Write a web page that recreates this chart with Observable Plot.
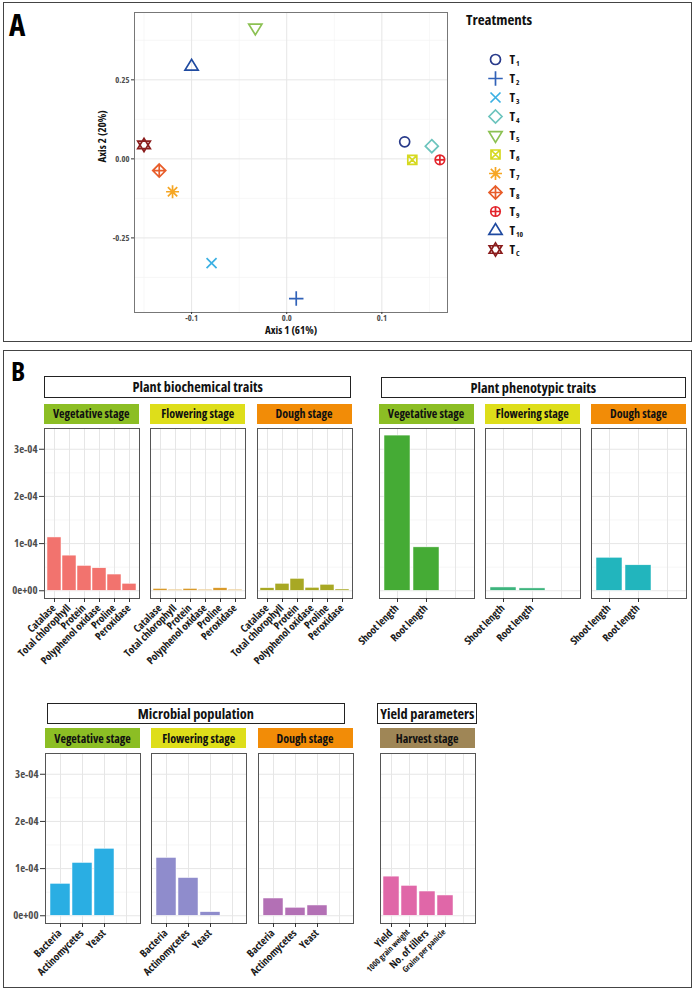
<!DOCTYPE html>
<html><head><meta charset="utf-8">
<script src="https://cdn.jsdelivr.net/npm/d3@7"></script>
<script src="https://cdn.jsdelivr.net/npm/@observablehq/plot@0.6"></script>
<style>
body{margin:0;background:#fff;}
#root{position:relative;width:695px;height:991px;overflow:hidden;font-family:"Open Sans",sans-serif;font-stretch:75%;}
.abs{position:absolute;box-sizing:border-box;}
svg{overflow:visible;}
</style></head><body><div id="root"></div>
<script>
// ---------- DATA ----------
const treatments = ["T1","T2","T3","T4","T5","T6","T7","T8","T9","T10","TC"];
const treatSubs = ["1","2","3","4","5","6","7","8","9","10","C"];
const axis1 = [0.124, 0.010, -0.079, 0.1525, -0.033, 0.132, -0.120, -0.134, 0.161, -0.100, -0.150];
const axis2 = [0.054, -0.442, -0.330, 0.040, 0.414, -0.003, -0.104, -0.037, -0.003, 0.293, 0.044];
const treatColors = ["#283a8a","#3162b8","#3bb0e3","#6cc4bd","#8cc153","#d6d921","#f6a623","#e85d2a","#e3242b","#1f4aa0","#8a1c1c"];
const axisTitle1 = "Axis 1 (61%)";
const axisTitle2 = "Axis 2 (20%)";
const xTicksA = [-0.1, 0, 0.1];
const yTicksA = [-0.25, 0, 0.25];
const xMinorA = [-0.15, -0.05, 0.05, 0.15];
const yMinorA = [-0.375, -0.125, 0.125, 0.375];

const stages = ["Vegetative stage","Flowering stage","Dough stage"];
const harvestStage = "Harvest stage";
const stageColors = ["#8cbe24","#dede1a","#f28c07"];
const harvestColor = "#9f8656";

const biochemTraits = ["Catalase","Total chlorophyll","Protein","Polyphenol oxidase","Proline","Peroxidase"];
const biochemVeg   = [1.13e-4, 0.745e-4, 0.527e-4, 0.477e-4, 0.344e-4, 0.148e-4];
const biochemFlow  = [0.040e-4, 0.020e-4, 0.040e-4, 0.020e-4, 0.055e-4, 0.020e-4];
const biochemDough = [0.055e-4, 0.148e-4, 0.253e-4, 0.063e-4, 0.127e-4, 0.027e-4];

const phenoTraits = ["Shoot length","Root length"];
const phenoVeg   = [3.29e-4, 0.92e-4];
const phenoFlow  = [0.07e-4, 0.05e-4];
const phenoDough = [0.70e-4, 0.54e-4];

const microbes = ["Bacteria","Actinomycetes","Yeast"];
const microVeg   = [0.677e-4, 1.12e-4, 1.42e-4];
const microFlow  = [1.226e-4, 0.80e-4, 0.076e-4];
const microDough = [0.366e-4, 0.17e-4, 0.218e-4];

const yieldTraits = ["Yield","1000 grain weight","No. of tillers","Grains per panicle"];
const yieldSmall = ["1000 grain weight","Grains per panicle"];
const yieldHarvest = [0.83e-4, 0.634e-4, 0.514e-4, 0.43e-4];

const groupTitles = ["Plant biochemical traits","Plant phenotypic traits","Microbial population","Yield parameters"];
const panelFills = ["#f2736e","#d99a2b","#a8a824","#45ab35","#3db47d","#22b5bd","#2aaee3","#8f8ccc","#b370b5","#e067a8"];

const yDomain = [-0.164e-4, 3.44e-4];
const yTicks = [0, 1e-4, 2e-4, 3e-4];
const yMinor = [0.5e-4, 1.5e-4, 2.5e-4];

// ---------- HELPERS ----------
const FONT = '"Open Sans", sans-serif';
const root = document.getElementById("root");
function box(left, top, w, h, style) {
  const d = document.createElement("div"); d.className = "abs";
  Object.assign(d.style, {left: left+"px", top: top+"px", width: w+"px", height: h+"px"}, style || {});
  root.appendChild(d); return d;
}
function label(text, left, top, w, h, style) {
  const d = box(left, top, w, h, Object.assign({display:"flex", alignItems:"center", justifyContent:"center", fontWeight:"bold", whiteSpace:"nowrap", color:"#111"}, style || {}));
  d.textContent = text; return d;
}
function placeSvg(svg, left, top) {
  svg.style.position = "absolute"; svg.style.left = left + "px"; svg.style.top = top + "px";
  root.appendChild(svg);
}
const baseStyle = {fontFamily: FONT, fontStretch: "75%", fontWeight: "bold", background: "transparent", overflow: "visible", color: "#333"};
const fmtE = d => d3.format(".0e")(d).replace(/e([+-])(\d)$/, "e$10$2");

// symbols
const S = f => ({draw(c, size) { f(c, Math.sqrt(size / Math.PI)); }});
const circ = (c, r) => { c.moveTo(r, 0); c.arc(0, 0, r, 0, 2 * Math.PI); };
const plusL = (c, s) => { c.moveTo(-s, 0); c.lineTo(s, 0); c.moveTo(0, -s); c.lineTo(0, s); };
const timesL = (c, s) => { c.moveTo(-s, -s); c.lineTo(s, s); c.moveTo(-s, s); c.lineTo(s, -s); };
const diam = (c, s) => { c.moveTo(0, -s); c.lineTo(s, 0); c.lineTo(0, s); c.lineTo(-s, 0); c.closePath(); };
const triUp = (c, s) => { c.moveTo(-s * 1.1, s * 0.65); c.lineTo(s * 1.1, s * 0.65); c.lineTo(0, -s * 1.15); c.closePath(); };
const triDn = (c, s) => { c.moveTo(-s * 1.1, -s * 0.65); c.lineTo(s * 1.1, -s * 0.65); c.lineTo(0, s * 1.15); c.closePath(); };
const treatSymbols = [
  S((c, r) => circ(c, r)),
  S((c, r) => plusL(c, r * 1.45)),
  S((c, r) => timesL(c, r * 1.0)),
  S((c, r) => diam(c, r * 1.3)),
  S((c, r) => triDn(c, r * 1.2)),
  S((c, r) => { const s = r * 0.9; c.moveTo(-s, -s); c.lineTo(s, -s); c.lineTo(s, s); c.lineTo(-s, s); c.closePath(); timesL(c, s); }),
  S((c, r) => { const s = r * 1.3; plusL(c, s); timesL(c, s * 0.72); }),
  S((c, r) => { const s = r * 1.3; diam(c, s); plusL(c, s); }),
  S((c, r) => { circ(c, r * 0.95); plusL(c, r * 0.95); }),
  S((c, r) => triUp(c, r * 1.2)),
  S((c, r) => { triUp(c, r * 1.15); triDn(c, r * 1.15); })
];

// ---------- FRAMES & LETTERS ----------
box(3, 2, 689, 340, {border: "1.5px solid #444"});
box(3, 350, 689, 638, {border: "1.5px solid #444"});
label("A", 9, 8.5, 24, 31, {fontSize: "31px", lineHeight: "1", justifyContent: "flex-start", alignItems: "flex-start", color: "#000"});
label("B", 11, 356.5, 22, 27, {fontSize: "27px", lineHeight: "1", justifyContent: "flex-start", alignItems: "flex-start", color: "#000"});

// ---------- PANEL A ----------
const pcoa = treatments.map((t, i) => ({t, a1: axis1[i], a2: axis2[i]}));
const plotA = Plot.plot({
  width: 460, height: 345, marginLeft: 134, marginTop: 12, marginRight: 13, marginBottom: 33,
  x: {domain: [-0.160, 0.169], axis: null},
  y: {domain: [-0.486, 0.463], axis: null},
  symbol: {domain: treatments, range: treatSymbols},
  color: {type: "ordinal", domain: treatments, range: treatColors},
  style: baseStyle,
  marks: [
    Plot.gridX(xMinorA, {stroke: "#f3f3f3", strokeOpacity: 1, strokeWidth: 0.7}),
    Plot.gridY(yMinorA, {stroke: "#f3f3f3", strokeOpacity: 1, strokeWidth: 0.7}),
    Plot.gridX(xTicksA, {stroke: "#e6e6e6", strokeOpacity: 1}),
    Plot.gridY(yTicksA, {stroke: "#e6e6e6", strokeOpacity: 1}),
    Plot.frame({stroke: "#777", strokeWidth: 1}),
    Plot.axisX(xTicksA, {tickFormat: d => d.toFixed(1), tickSize: 2, tickPadding: 0.5, fontSize: 8.5, fill: "#4d4d4d", label: null}),
    Plot.axisY(yTicksA, {tickFormat: d => d.toFixed(2), tickSize: 3, tickPadding: 2, fontSize: 8.5, fill: "#4d4d4d", label: null}),
    Plot.text([axisTitle1], {text: d => d, frameAnchor: "bottom", dy: 21.5, fontSize: 11, fill: "#111"}),
    Plot.text([axisTitle2], {text: d => d, frameAnchor: "left", rotate: -90, dx: -32, fontSize: 11, fill: "#111"}),
    Plot.dot(pcoa, {x: "a1", y: "a2", symbol: "t", stroke: "t", fill: "none", r: 5, strokeWidth: 1.7})
  ]
});
placeSvg(plotA, 0, 0);

// legend
label("Treatments", 466, 8, 100, 22, {fontSize: "15px", justifyContent: "flex-start"});
const legend = Plot.plot({
  width: 120, height: 270, marginLeft: 0, marginRight: 0, marginTop: 57, marginBottom: 20,
  y: {type: "point", domain: treatments, padding: 0, axis: null},
  symbol: {domain: treatments, range: treatSymbols},
  color: {type: "ordinal", domain: treatments, range: treatColors},
  style: baseStyle,
  marks: [
    Plot.dot(treatments, {y: d => d, symbol: d => d, stroke: d => d, fill: "none", frameAnchor: "left", dx: 25, r: 5, strokeWidth: 1.7}),
    Plot.text(treatments, {y: d => d, text: () => "T", frameAnchor: "left", dx: 39, textAnchor: "start", fontSize: 13, fill: "#111"}),
    Plot.text(treatSubs, {y: (d, i) => treatments[i], text: d => d, frameAnchor: "left", dx: 45.5, dy: 4.5, textAnchor: "start", fontSize: 7.5, fill: "#111"})
  ]
});
placeSvg(legend, 470, 0);

// ---------- PANEL B ----------
function xLabels(ticks, fontSize) {
  return [
    Plot.axisX(ticks, {tickSize: 4, tickFormat: () => "", label: null}),
    Plot.axisX(ticks, {tickSize: 0, tickPadding: 5, tickRotate: -45, textAnchor: "end", lineAnchor: "top", dx: -3.5, fontSize, fill: "#1a1a1a", label: null})
  ];
}
function barPanel({cats, values, extra = 0, fill, x0, y0, w = 95, h = 170, yAxis = false, small = []}) {
  const slots = cats.concat(d3.range(extra).map(i => " ".repeat(i + 1)));
  const data = cats.map((c, i) => ({cat: c, v: values[i]}));
  const mL = yAxis ? 48 : 2, mR = 2, mT = 2, mB = 80;
  const big = cats.filter(c => !small.includes(c));
  const marks = [
    Plot.gridY(yMinor, {stroke: "#f2f2f2", strokeOpacity: 1, strokeWidth: 0.7}),
    Plot.gridY(yTicks, {stroke: "#e6e6e6", strokeOpacity: 1}),
    Plot.gridX(slots, {stroke: "#e6e6e6", strokeOpacity: 1}),
    Plot.barY(data, {x: "cat", y: "v", fill, stroke: "white", strokeWidth: 0.5}),
    Plot.frame({stroke: "#555", strokeWidth: 1}),
    ...xLabels(big, 10.6)
  ];
  if (small.length) marks.push(...xLabels(small, 8.2));
  if (yAxis) marks.push(Plot.axisY(yTicks, {tickFormat: fmtE, tickSize: 5, tickPadding: 2, fontSize: 10.8, fill: "#4d4d4d", label: null}));
  const p = Plot.plot({
    width: w + mL + mR, height: h + mT + mB,
    marginLeft: mL, marginRight: mR, marginTop: mT, marginBottom: mB,
    x: {type: "band", domain: slots, paddingInner: 0.1, paddingOuter: 0.15, align: 0.5, axis: null},
    y: {domain: yDomain, axis: null},
    style: baseStyle,
    marks
  });
  placeSvg(p, x0 - mL, y0 - mT);
}
function strip(text, color, x0, y0, w = 95) {
  label(text, x0, y0 - 24.5, w, 20, {background: color, fontSize: "12px"});
}
function titleBox(text, left, top, w, h) {
  label(text, left, top, w, h, {border: "1.3px solid #222", background: "#fff", fontSize: "14.3px"});
}

const row1 = 428, row2 = 752.5;
titleBox(groupTitles[0], 44.3, 376, 306.7, 21.5);
titleBox(groupTitles[1], 380.7, 377, 305.3, 21);
titleBox(groupTitles[2], 46.7, 702.7, 298.3, 21);
titleBox(groupTitles[3], 377.3, 703.3, 100, 21);

const biochemX = [43.7, 150.3, 256.5];
const phenoX = [378.5, 484.8, 591];
const microX = [45, 151.3, 257.5];
const yieldX = 379.7;

[biochemVeg, biochemFlow, biochemDough].forEach((vals, i) => {
  strip(stages[i], stageColors[i], biochemX[i], row1);
  barPanel({cats: biochemTraits, values: vals, fill: panelFills[i], x0: biochemX[i], y0: row1, yAxis: i === 0});
});
[phenoVeg, phenoFlow, phenoDough].forEach((vals, i) => {
  strip(stages[i], stageColors[i], phenoX[i], row1);
  barPanel({cats: phenoTraits, values: vals, extra: 1, fill: panelFills[3 + i], x0: phenoX[i], y0: row1});
});
[microVeg, microFlow, microDough].forEach((vals, i) => {
  strip(stages[i], stageColors[i], microX[i], row2);
  barPanel({cats: microbes, values: vals, extra: 1, fill: panelFills[6 + i], x0: microX[i], y0: row2, yAxis: i === 0});
});
strip(harvestStage, harvestColor, yieldX, row2);
barPanel({cats: yieldTraits, values: yieldHarvest, extra: 1, fill: panelFills[9], x0: yieldX, y0: row2, small: yieldSmall});
</script></body></html>
